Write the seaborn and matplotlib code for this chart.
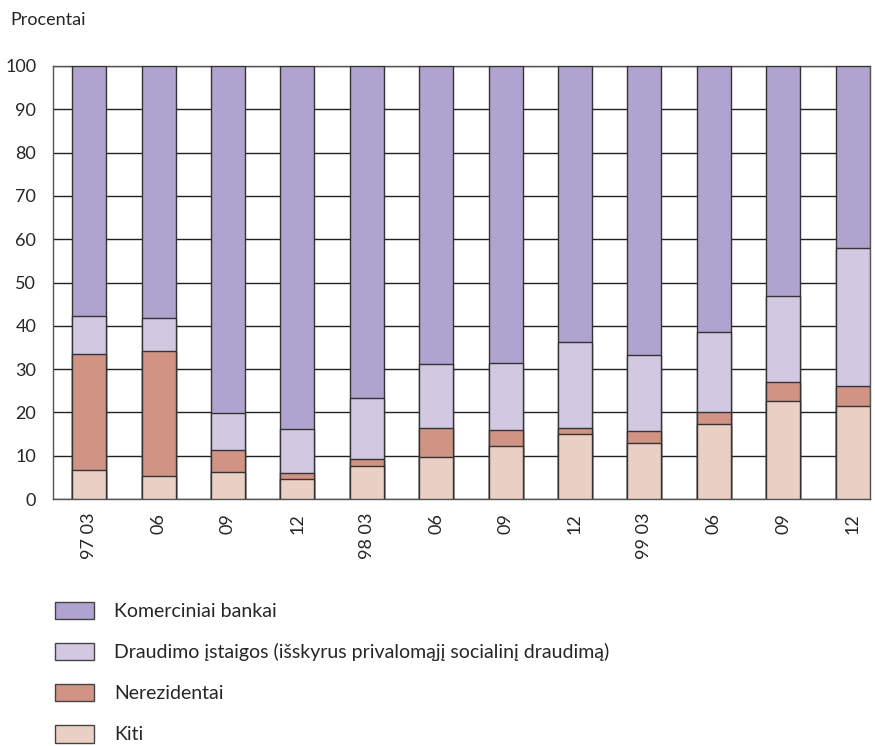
"""Sektorių struktūra, procentai"""
import pandas as pd
import matplotlib.pyplot as plt
import seaborn as sns
from matplotlib.patches import Patch
from matplotlib.ticker import MultipleLocator

# Data (percent of total)
periods = ["97 03", "06", "09", "12", "98 03", "06 ", "09 ", "12 ", "99 03", "06  ", "09  ", "12  "]
kiti = [6.7, 5.4, 6.3, 4.7, 7.7, 9.8, 12.2, 15.0, 12.9, 17.3, 22.7, 21.4]
nerezidentai = [26.8, 28.8, 5.1, 1.3, 1.5, 6.6, 3.8, 1.4, 2.7, 2.7, 4.3, 4.6]
draudimo = [8.8, 7.6, 8.4, 10.2, 14.1, 14.8, 15.4, 19.8, 17.6, 18.5, 19.8, 32.0]
labels = ["Komerciniai bankai",
          "Draudimo įstaigos (išskyrus privalomąjį socialinį draudimą)",
          "Nerezidentai", "Kiti"]
colors = ["#afa3cf", "#d2c8e2", "#d09384", "#eacfc5"]

df = pd.DataFrame({"period": periods, "kiti": kiti,
                   "nerezidentai": nerezidentai, "draudimo": draudimo})
df["bankai"] = 100 - df["kiti"] - df["nerezidentai"] - df["draudimo"]
# cumulative tops for stacking
df["c_kiti"] = df["kiti"]
df["c_nerez"] = df["c_kiti"] + df["nerezidentai"]
df["c_draud"] = df["c_nerez"] + df["draudimo"]
df["c_bank"] = df["c_draud"] + df["bankai"]

sns.set_style("white")
plt.rcParams["font.family"] = ["Lato", "DejaVu Sans"]

fig = plt.figure(figsize=(8.75, 7.46), dpi=100)
ax = fig.add_axes([53 / 875, 247 / 746, 817 / 875, 433 / 746])

for col, color in zip(["c_bank", "c_draud", "c_nerez", "c_kiti"], colors):
    sns.barplot(data=df, x="period", y=col, color=color, width=0.49,
                edgecolor="#333333", linewidth=1, saturation=1, ax=ax, zorder=3)

ax.set_ylim(0, 100)
ax.set_xlim(-0.52, 11.25)
ax.yaxis.set_major_locator(MultipleLocator(10))
ax.yaxis.grid(True, color="#222222", linewidth=1)
ax.set_axisbelow(True)
ax.set_xlabel("")
ax.set_ylabel("")

ax.set_xticks(range(len(periods)))
ax.set_xticklabels([p.strip() for p in periods], rotation=90, fontsize=13, va="top")
ax.set_xticks([i + 0.5 for i in range(len(periods) - 1)], minor=True)
ax.tick_params(axis="x", which="major", length=0, pad=10)
ax.tick_params(axis="x", which="minor", length=9, direction="in", width=1, color="#222222")
ax.tick_params(axis="y", length=0, labelsize=13, pad=12)
for s in ax.spines.values():
    s.set_color("#555555")
    s.set_linewidth(1)

fig.text(10 / 875, 1 - 20 / 746, "Procentai", fontsize=13, va="center", ha="left")

handles = [Patch(facecolor=c, edgecolor="#444444", linewidth=1) for c in colors]
fig.legend(handles, labels, loc="upper left", bbox_to_anchor=(37 / 875, 1 - 584 / 746),
           frameon=False, fontsize=14, handlelength=2.05, handleheight=1.03,
           labelspacing=1.16, handletextpad=1.0)

plt.savefig("out.png", dpi=100)
